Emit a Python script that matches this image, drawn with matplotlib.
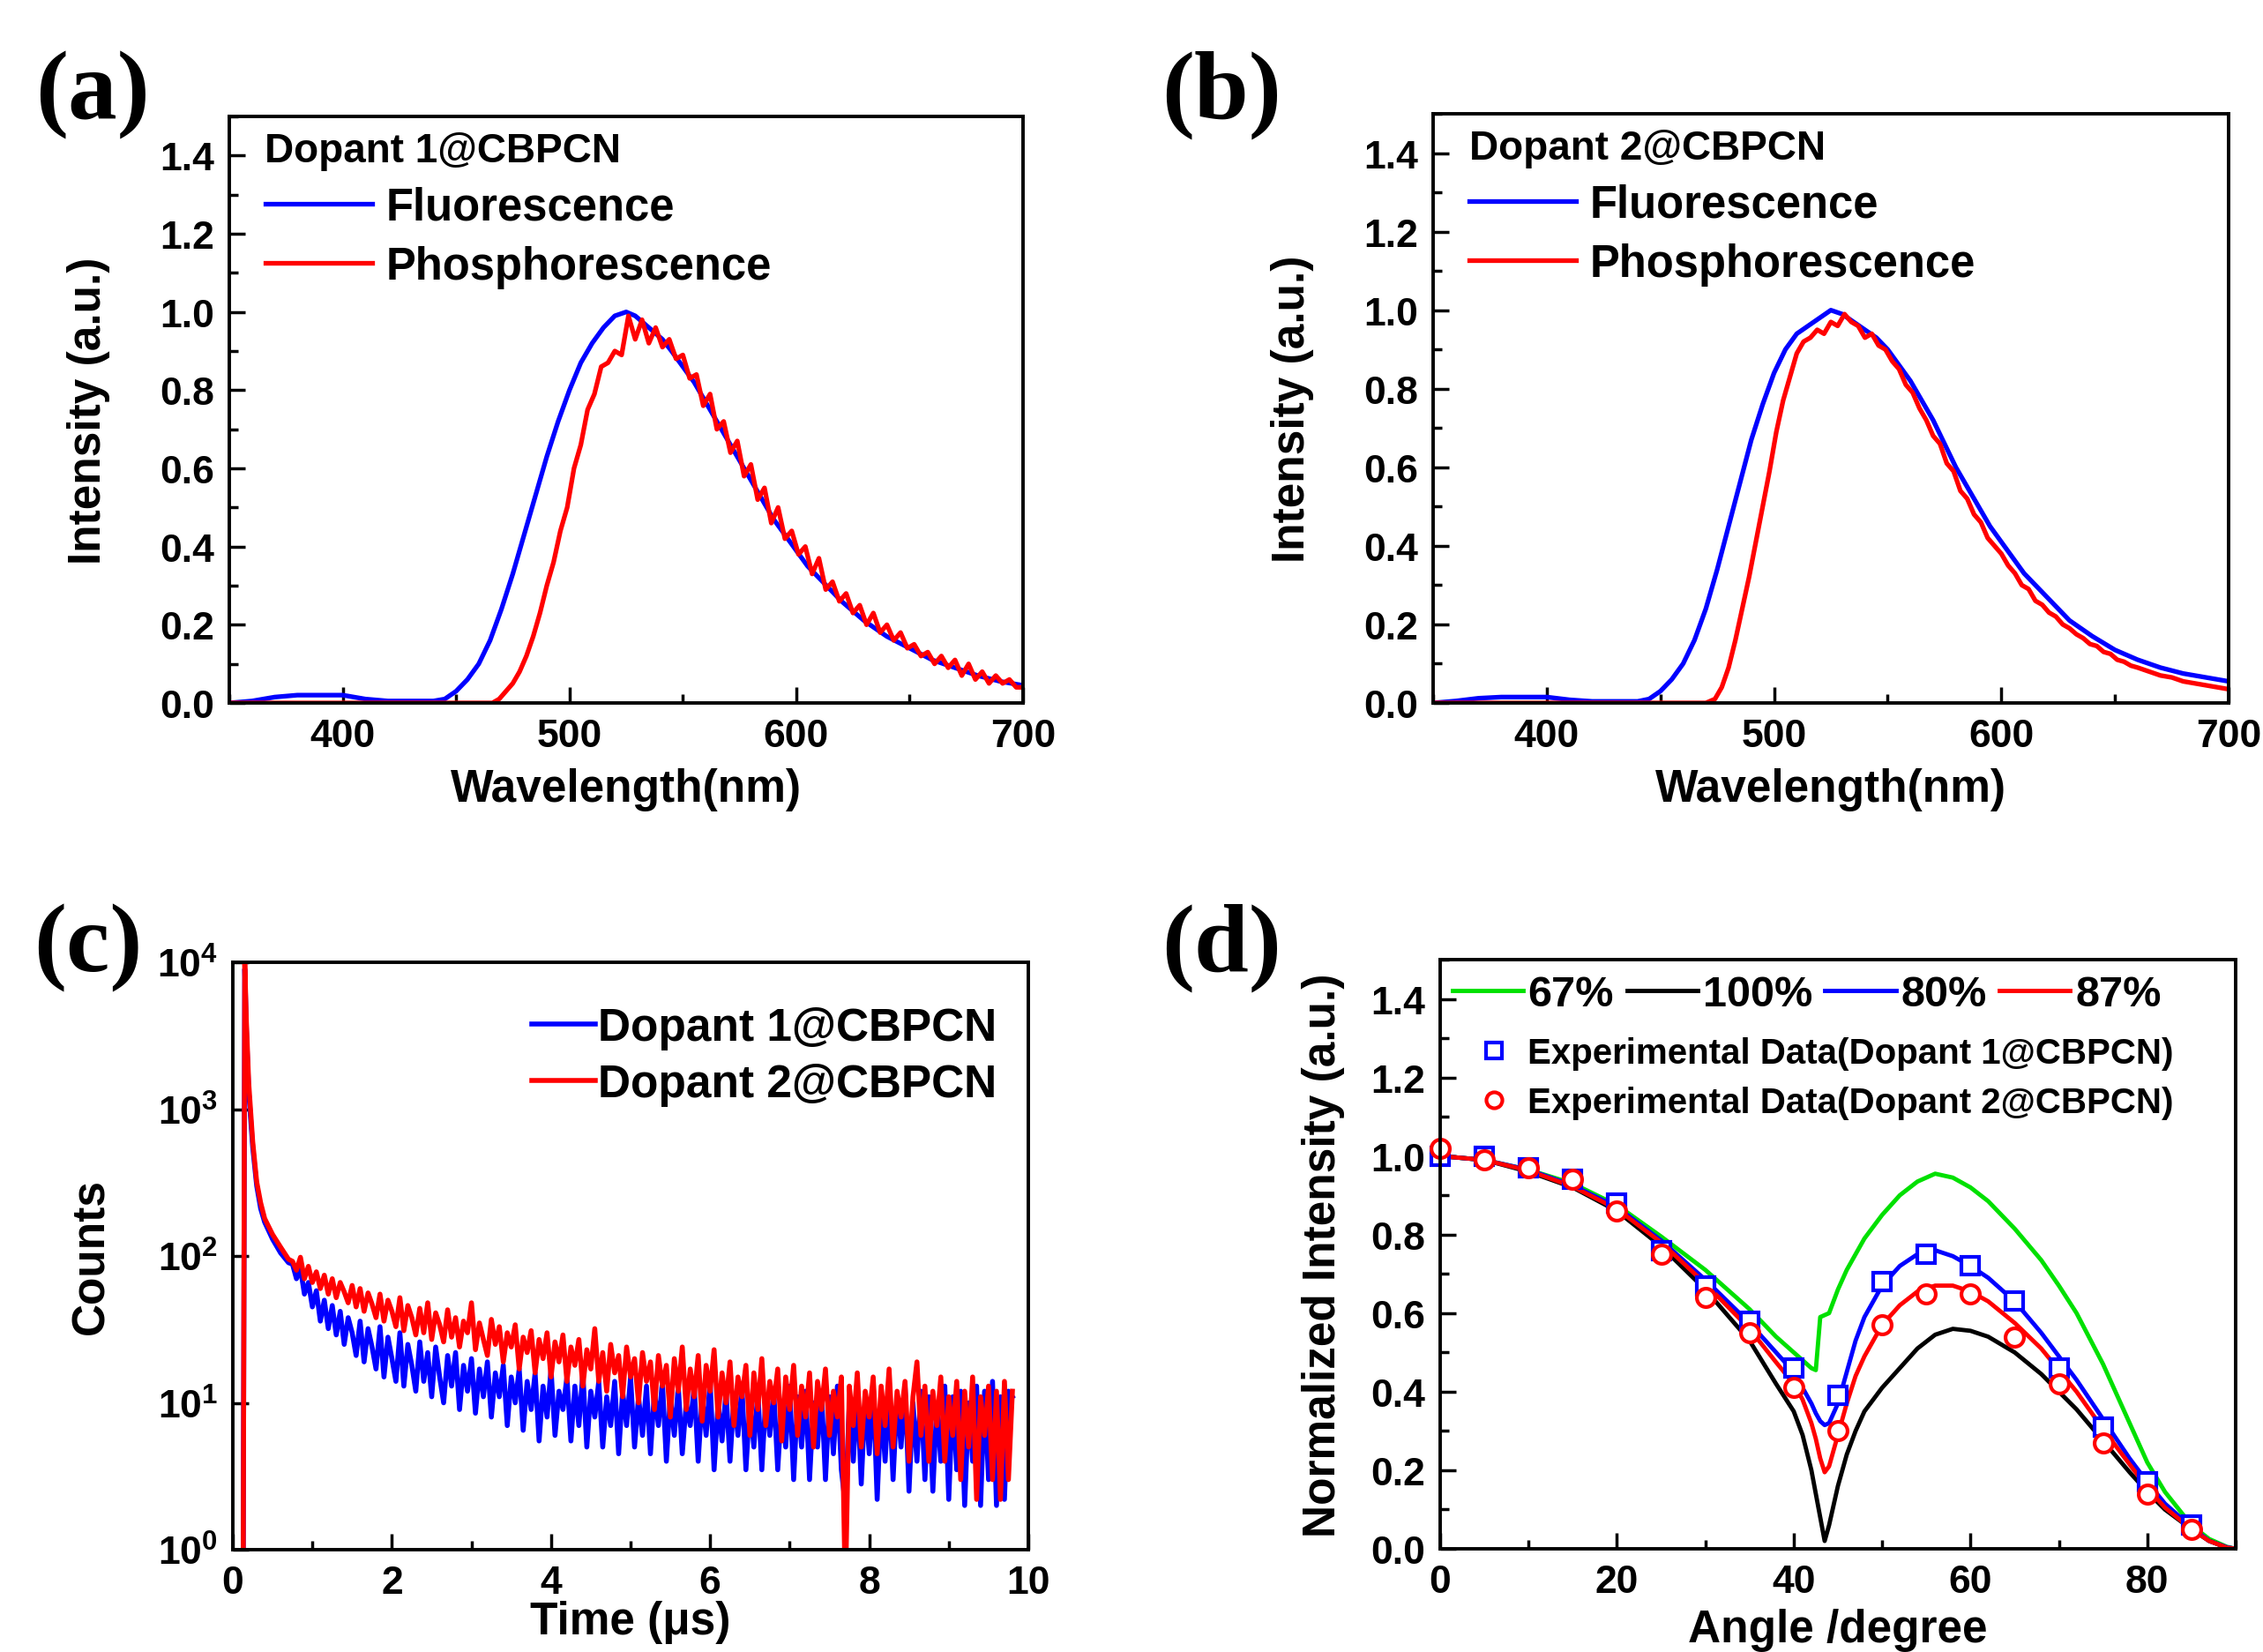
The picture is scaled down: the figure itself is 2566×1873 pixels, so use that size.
import matplotlib
matplotlib.use("Agg")
import matplotlib.pyplot as plt
from matplotlib.lines import Line2D
from matplotlib.ticker import MultipleLocator, NullLocator

plt.rcParams['font.family'] = ['Liberation Sans', 'DejaVu Sans']
plt.rcParams['font.weight'] = 'bold'
plt.rcParams['axes.labelweight'] = 'bold'
plt.rcParams['mathtext.fontset'] = 'custom'
plt.rcParams['mathtext.rm'] = 'Liberation Sans:bold'
plt.rcParams['mathtext.bf'] = 'Liberation Sans:bold'

# ---- (a) Dopant 1@CBPCN spectra ----
wl_fl_a = [350, 360, 370, 380, 390, 400, 410, 420, 440, 445, 450, 455, 460, 465, 470, 475, 480,
           485, 490, 495, 500, 505, 510, 515, 520, 525, 529, 533, 537, 541, 545, 550, 555, 560,
           565, 570, 575, 580, 585, 590, 595, 600, 605, 610, 615, 620, 630, 640, 650, 660, 670,
           680, 690, 700]
fl_a = [0.0, 0.005, 0.015, 0.02, 0.02, 0.02, 0.01, 0.005, 0.005, 0.01, 0.03, 0.06, 0.10, 0.16,
        0.24, 0.33, 0.43, 0.53, 0.63, 0.72, 0.80, 0.87, 0.92, 0.96, 0.99, 1.0, 0.99, 0.97, 0.95,
        0.93, 0.90, 0.86, 0.82, 0.77, 0.72, 0.67, 0.62, 0.57, 0.52, 0.47, 0.43, 0.39, 0.35, 0.32,
        0.29, 0.26, 0.21, 0.17, 0.14, 0.11, 0.09, 0.07, 0.055, 0.045]
wl_ph_a = [350, 400, 440, 466, 469, 472, 475, 478, 481, 484, 487, 490, 493, 496, 499, 502, 505,
           508, 511, 514, 517, 520, 523, 526, 529, 532, 535, 538, 541, 544, 547, 550, 553, 556,
           559, 562, 565, 568, 571, 574, 577, 580, 583, 586, 589, 592, 595, 598, 601, 604, 607,
           610, 613, 616, 619, 622, 625, 628, 631, 634, 637, 640, 643, 646, 649, 652, 655, 658,
           661, 664, 667, 670, 673, 676, 679, 682, 685, 688, 691, 694, 697, 700]
ph_a = [0.0, 0.0, 0.0, 0.0, 0.01, 0.03, 0.05, 0.08, 0.12, 0.17, 0.23, 0.30, 0.36, 0.44, 0.50,
        0.60, 0.66, 0.75, 0.79, 0.86, 0.87, 0.90, 0.89, 0.99, 0.93, 0.98, 0.92, 0.96, 0.91, 0.93,
        0.88, 0.89, 0.83, 0.84, 0.76, 0.79, 0.70, 0.72, 0.64, 0.67, 0.58, 0.61, 0.52, 0.55, 0.46,
        0.50, 0.42, 0.44, 0.38, 0.40, 0.33, 0.37, 0.29, 0.31, 0.26, 0.28, 0.23, 0.25, 0.20, 0.23,
        0.18, 0.20, 0.16, 0.18, 0.14, 0.15, 0.12, 0.13, 0.10, 0.12, 0.09, 0.11, 0.07, 0.10, 0.06,
        0.08, 0.05, 0.07, 0.05, 0.06, 0.04, 0.04]

# ---- (b) Dopant 2@CBPCN spectra ----
wl_fl_b = [350, 360, 370, 380, 390, 400, 410, 420, 440, 445, 450, 455, 460, 465, 470, 475, 480,
           485, 490, 495, 500, 505, 510, 515, 520, 525, 530, 535, 540, 545, 550, 555, 560, 565,
           570, 575, 580, 585, 590, 595, 600, 605, 610, 615, 620, 630, 640, 650, 660, 670, 680,
           690, 700]
fl_b = [0.0, 0.005, 0.012, 0.015, 0.015, 0.015, 0.008, 0.004, 0.004, 0.01, 0.03, 0.06, 0.10,
        0.16, 0.24, 0.34, 0.45, 0.56, 0.67, 0.76, 0.84, 0.90, 0.94, 0.96, 0.98, 1.0, 0.99, 0.97,
        0.95, 0.93, 0.90, 0.86, 0.82, 0.77, 0.72, 0.66, 0.60, 0.55, 0.50, 0.45, 0.41, 0.37, 0.33,
        0.30, 0.27, 0.21, 0.17, 0.135, 0.11, 0.09, 0.075, 0.065, 0.055]
wl_ph_b = [350, 440, 470, 474, 477, 480, 483, 486, 489, 492, 495, 498, 501, 504, 507, 510, 513,
           516, 519, 522, 525, 528, 531, 534, 537, 540, 543, 546, 549, 552, 555, 558, 561, 564,
           567, 570, 573, 576, 579, 582, 585, 588, 591, 594, 597, 600, 603, 606, 609, 612, 615,
           618, 621, 624, 627, 630, 633, 636, 639, 642, 645, 648, 651, 654, 657, 660, 665, 670,
           675, 680, 685, 690, 695, 700]
ph_b = [0.0, 0.0, 0.0, 0.01, 0.04, 0.09, 0.16, 0.24, 0.32, 0.41, 0.50, 0.59, 0.69, 0.77, 0.83,
        0.89, 0.92, 0.93, 0.95, 0.94, 0.97, 0.96, 0.99, 0.97, 0.96, 0.93, 0.94, 0.91, 0.90, 0.87,
        0.85, 0.81, 0.79, 0.75, 0.72, 0.68, 0.66, 0.61, 0.59, 0.54, 0.52, 0.48, 0.46, 0.42, 0.40,
        0.38, 0.35, 0.33, 0.30, 0.29, 0.26, 0.25, 0.23, 0.22, 0.20, 0.19, 0.175, 0.165, 0.15,
        0.145, 0.13, 0.125, 0.11, 0.105, 0.095, 0.09, 0.08, 0.07, 0.065, 0.055, 0.05, 0.045, 0.04,
        0.035]

# ---- (c) transient decay (counts vs time, us) ----
time_us = [0.10, 0.13, 0.15, 0.17, 0.20, 0.25, 0.30, 0.35, 0.40, 0.50, 0.60, 0.70,
           0.75, 0.80, 0.85, 0.90, 0.95, 1.00, 1.05, 1.10, 1.15, 1.20,
           1.25, 1.30, 1.35, 1.40, 1.45, 1.50, 1.55, 1.60, 1.65, 1.70,
           1.75, 1.80, 1.85, 1.90, 1.95, 2.00, 2.05, 2.10, 2.15, 2.20,
           2.25, 2.30, 2.35, 2.40, 2.45, 2.50, 2.55, 2.60, 2.65, 2.70,
           2.75, 2.80, 2.85, 2.90, 2.95, 3.00, 3.05, 3.10, 3.15, 3.20,
           3.25, 3.30, 3.35, 3.40, 3.45, 3.50, 3.55, 3.60, 3.65, 3.70,
           3.75, 3.80, 3.85, 3.90, 3.95, 4.00, 4.05, 4.10, 4.15, 4.20,
           4.25, 4.30, 4.35, 4.40, 4.45, 4.50, 4.55, 4.60, 4.65, 4.70,
           4.75, 4.80, 4.85, 4.90, 4.95, 5.00, 5.05, 5.10, 5.15, 5.20,
           5.25, 5.30, 5.35, 5.40, 5.45, 5.50, 5.55, 5.60, 5.65, 5.70,
           5.75, 5.80, 5.85, 5.90, 5.95, 6.00, 6.05, 6.10, 6.15, 6.20,
           6.25, 6.30, 6.35, 6.40, 6.45, 6.50, 6.55, 6.60, 6.65, 6.70,
           6.75, 6.80, 6.85, 6.90, 6.95, 7.00, 7.05, 7.10, 7.15, 7.20,
           7.25, 7.30, 7.35, 7.40, 7.45, 7.50, 7.55, 7.60, 7.65, 7.70,
           7.75, 7.80, 7.85, 7.90, 7.95, 8.00, 8.05, 8.10, 8.15, 8.20,
           8.25, 8.30, 8.35, 8.40, 8.45, 8.50, 8.55, 8.60, 8.65, 8.70,
           8.75, 8.80, 8.85, 8.90, 8.95, 9.00, 9.05, 9.10, 9.15, 9.20,
           9.25, 9.30, 9.35, 9.40, 9.45, 9.50, 9.55, 9.60, 9.65, 9.70,
           9.75, 9.80]
counts_d1 = [0.5, 0.5, 9000, 3500, 1300, 550, 300, 210, 170, 130, 105, 90,
             88, 70, 82, 55, 66, 45, 58, 36, 50, 32,
             46, 29, 42, 25, 38, 30, 21, 36, 19, 32,
             24, 17, 33, 15, 28, 20, 14, 30, 13, 25,
             18, 12, 26, 14, 22, 11, 24, 15, 10, 21,
             13, 22, 9, 18, 12, 20, 8.5, 17, 11, 19,
             8, 16, 11, 18, 7, 15, 10, 17, 6.5, 14,
             9, 16, 5.5, 13, 8, 17, 6, 12, 9, 15,
             5.5, 13, 7, 16, 5, 12, 8, 14, 5, 11,
             7, 14, 4.5, 12, 7, 15, 5, 11, 6, 13,
             4.5, 12, 7, 14, 4, 11, 6, 13, 4.5, 10,
             7, 13, 4, 11, 6, 14, 3.5, 10, 5.5, 12,
             4, 11, 6, 13, 3.5, 10, 5, 12, 3.5, 11,
             6, 12, 3.5, 10, 5, 13, 3, 11, 5, 12,
             3, 10, 5, 12, 3, 11, 4.5, 13, 3.5, 2,
             10, 4, 12, 2.8, 11, 4.5, 13, 2.2, 10, 4,
             12, 3, 11, 5, 13, 2.5, 10, 4, 12, 3,
             11, 2.5, 10, 4, 13, 2.2, 11, 3.5, 12, 2,
             10, 4, 13, 2, 12, 3, 14, 2, 11, 2.2,
             12, 11]
counts_d2 = [0.5, 0.5, 10000, 4000, 1500, 600, 320, 230, 180, 140, 115, 95,
             92, 80, 98, 70, 85, 66, 78, 60, 74, 55,
             70, 52, 66, 57, 48, 63, 45, 60, 42, 56,
             47, 38, 55, 36, 50, 42, 33, 52, 31, 46,
             38, 29, 44, 30, 48, 27, 41, 34, 26, 43,
             28, 38, 24, 36, 30, 48, 23, 35, 27, 21,
             37, 25, 33, 19, 30, 24, 34, 17, 28, 22,
             31, 16, 27, 20, 30, 15, 26, 19, 29, 14,
             24, 18, 27, 13, 23, 17, 32, 14, 22, 12,
             25, 16, 21, 11, 24, 15, 20, 10, 22, 14,
             19, 9, 21, 13, 18, 8, 20, 12, 24, 9,
             17, 11, 21, 7.5, 18, 12, 23, 8, 16, 10,
             19, 7, 15, 11, 18, 6, 16, 9, 20, 7,
             14, 10, 17, 5.5, 15, 9, 18, 6, 13, 8,
             16, 5, 14, 9, 17, 6, 12, 8, 15, 0.5,
             13, 7, 16, 5, 12, 8, 15, 4.5, 13, 7,
             17, 5, 12, 8, 14, 4, 11, 19, 6, 13,
             4, 12, 7, 15, 4, 11, 6, 14, 3, 12,
             5, 15, 2.2, 11, 6, 13, 3, 12, 2.2, 14,
             3, 12]
decay_exponents = [0, 1, 2, 3, 4]

# ---- (d) angular dependence ----
angle_fit = [0, 5, 10, 15, 20, 25, 30, 35, 38, 40, 41, 42, 42.5, 43, 43.5, 44, 45, 46, 47, 48,
             50, 52, 54, 56, 58, 60, 62, 65, 68, 70, 72, 75, 78, 80, 82, 85, 87, 89, 90]
fit_67 = [1.0, 0.99, 0.965, 0.93, 0.875, 0.795, 0.71, 0.61, 0.54, 0.50, 0.48, 0.46, 0.455, 0.59,
          0.595, 0.60, 0.66, 0.71, 0.75, 0.79, 0.85, 0.90, 0.935, 0.955, 0.945, 0.92, 0.885,
          0.815, 0.735, 0.67, 0.60, 0.47, 0.32, 0.22, 0.145, 0.06, 0.025, 0.005, 0.0]
fit_100 = [1.0, 0.99, 0.96, 0.92, 0.86, 0.77, 0.66, 0.53, 0.42, 0.35, 0.29, 0.20, 0.14, 0.08,
           0.02, 0.06, 0.16, 0.24, 0.30, 0.35, 0.41, 0.46, 0.51, 0.545, 0.56, 0.555, 0.54, 0.50,
           0.445, 0.40, 0.355, 0.275, 0.195, 0.145, 0.10, 0.05, 0.02, 0.003, 0.0]
fit_80 = [1.0, 0.99, 0.965, 0.925, 0.87, 0.785, 0.685, 0.575, 0.50, 0.45, 0.41, 0.37, 0.345,
          0.325, 0.315, 0.32, 0.37, 0.45, 0.53, 0.59, 0.67, 0.72, 0.75, 0.76, 0.745, 0.72, 0.69,
          0.63, 0.55, 0.49, 0.43, 0.33, 0.23, 0.17, 0.115, 0.055, 0.02, 0.004, 0.0]
fit_87 = [1.0, 0.99, 0.963, 0.922, 0.865, 0.78, 0.675, 0.56, 0.475, 0.42, 0.38, 0.32, 0.28,
          0.23, 0.195, 0.21, 0.29, 0.37, 0.44, 0.49, 0.57, 0.62, 0.655, 0.67, 0.67, 0.655, 0.63,
          0.575, 0.51, 0.455, 0.40, 0.305, 0.215, 0.155, 0.105, 0.05, 0.02, 0.003, 0.0]
angle_exp = [0, 5, 10, 15, 20, 25, 30, 35, 40, 45, 50, 55, 60, 65, 70, 75, 80, 85]
exp_d1 = [1.0, 1.0, 0.97, 0.94, 0.88, 0.76, 0.67, 0.58, 0.46, 0.39, 0.68, 0.75, 0.72, 0.63,
          0.46, 0.31, 0.17, 0.06]
exp_d2 = [1.02, 0.99, 0.97, 0.94, 0.86, 0.75, 0.64, 0.55, 0.41, 0.30, 0.57, 0.65, 0.65, 0.54,
          0.42, 0.27, 0.14, 0.05]

BLUE = '#0000ff'
RED = '#ff0000'
GREEN = '#00e000'
TICK = 32
LAB = 37


def style(ax):
    for s in ax.spines.values():
        s.set_linewidth(2.8)
    ax.tick_params(which='both', direction='in', top=False, right=False,
                   labelsize=TICK, width=2.5, pad=12)
    ax.tick_params(which='major', length=13)
    ax.tick_params(which='minor', length=7)


W, H = 2566, 1874
fig = plt.figure(figsize=(W / 100, H / 100), dpi=100)


def box(l, t, r, b):
    return [l / W, 1 - b / H, (r - l) / W, (b - t) / H]


ax_a = fig.add_axes(box(260, 133, 1160, 798))
ax_b = fig.add_axes(box(1625, 130, 2527, 798))
ax_c = fig.add_axes(box(264, 1092, 1166, 1758))
ax_d = fig.add_axes(box(1633, 1089, 2535, 1757))

# spectra panels
for ax, wf, f, wp, p, name in [(ax_a, wl_fl_a, fl_a, wl_ph_a, ph_a, 'Dopant 1@CBPCN'),
                               (ax_b, wl_fl_b, fl_b, wl_ph_b, ph_b, 'Dopant 2@CBPCN')]:
    ax.plot(wf, f, color=BLUE, lw=3.8, label='Fluorescence')
    ax.plot(wp, p, color=RED, lw=3.8, label='Phosphorescence')
    ax.set_xlim(350, 700)
    ax.set_ylim(0, 1.5)
    ax.set_xticks([400, 500, 600, 700])
    ax.xaxis.set_minor_locator(MultipleLocator(50))
    ax.set_yticks([0.0, 0.2, 0.4, 0.6, 0.8, 1.0, 1.2, 1.4])
    ax.yaxis.set_minor_locator(MultipleLocator(0.1))
    style(ax)
    ax.set_xlabel('Wavelength(nm)', fontsize=LAB)
    ax.set_ylabel('Intensity (a.u.)', fontsize=LAB)
    ax.xaxis.set_label_coords(0.5, -0.11)
    ax.yaxis.set_label_coords(-0.15, 0.5)
    ax.legend(loc='upper left', bbox_to_anchor=(0.045, 0.975), frameon=False,
              fontsize=36.5, title=name, alignment='left',
              title_fontproperties={'weight': 'bold', 'size': 33},
              handlelength=2.4, handletextpad=0.3, labelspacing=0.36,
              borderpad=0, borderaxespad=0)

# decay panel
ax_c.plot(time_us, counts_d1, color=BLUE, lw=4, label='Dopant 1@CBPCN')
ax_c.plot(time_us, counts_d2, color=RED, lw=4, label='Dopant 2@CBPCN')
ax_c.set_yscale('log')
ax_c.set_xlim(0, 10)
ax_c.set_ylim(1, 1e4)
ax_c.set_xticks([0, 2, 4, 6, 8, 10])
ax_c.xaxis.set_minor_locator(MultipleLocator(1))
ax_c.set_yticks([10 ** e for e in decay_exponents])
ax_c.set_yticklabels([r'$\mathbf{10^{%d}}$' % e for e in decay_exponents])
ax_c.yaxis.set_minor_locator(NullLocator())
style(ax_c)
ax_c.set_xlabel('Time (μs)', fontsize=LAB)
ax_c.set_ylabel('Counts', fontsize=LAB)
ax_c.xaxis.set_label_coords(0.5, -0.085)
ax_c.yaxis.set_label_coords(-0.15, 0.5)
ax_c.legend(loc='upper right', bbox_to_anchor=(0.96, 0.925), frameon=False, fontsize=37,
            handlelength=1.4, handletextpad=0.05, labelspacing=0.3,
            borderpad=0, borderaxespad=0)

# angular panel
ax_d.plot(angle_fit, fit_67, color=GREEN, lw=3.5)
ax_d.plot(angle_fit, fit_100, color='black', lw=3.5)
ax_d.plot(angle_fit, fit_80, color=BLUE, lw=3.5)
ax_d.plot(angle_fit, fit_87, color=RED, lw=3.5)
ax_d.plot(angle_exp, exp_d1, ls='none', marker='s', ms=15, mfc='white', mec=BLUE, mew=3,
          clip_on=False)
ax_d.plot(angle_exp, exp_d2, ls='none', marker='o', ms=15, mfc='white', mec=RED, mew=3,
          clip_on=False)
ax_d.set_xlim(0, 90)
ax_d.set_ylim(0, 1.5)
ax_d.set_xticks([0, 20, 40, 60, 80])
ax_d.xaxis.set_minor_locator(MultipleLocator(10))
ax_d.set_yticks([0.0, 0.2, 0.4, 0.6, 0.8, 1.0, 1.2, 1.4])
ax_d.yaxis.set_minor_locator(MultipleLocator(0.1))
style(ax_d)
ax_d.set_xlabel('Angle /degree', fontsize=LAB)
ax_d.set_ylabel('Normalized Intensity (a.u.)', fontsize=LAB)
ax_d.xaxis.set_label_coords(0.5, -0.1)
ax_d.yaxis.set_label_coords(-0.12, 0.5)

fit_handles = [Line2D([], [], color=GREEN, lw=3.5), Line2D([], [], color='black', lw=3.5),
               Line2D([], [], color=BLUE, lw=3.5), Line2D([], [], color=RED, lw=3.5)]
leg1 = ax_d.legend(fit_handles, ['67%', '100%', '80%', '87%'], loc='upper left',
                   bbox_to_anchor=(0.015, 0.975), ncol=4, frameon=False, fontsize=35,
                   handlelength=1.65, handletextpad=0.12, columnspacing=0.3,
                   borderpad=0, borderaxespad=0)
ax_d.add_artist(leg1)
exp_handles = [Line2D([], [], ls='none', marker='s', ms=13, mfc='white', mec=BLUE, mew=3),
               Line2D([], [], ls='none', marker='o', ms=13, mfc='white', mec=RED, mew=3)]
ax_d.legend(exp_handles, ['Experimental Data(Dopant 1@CBPCN)',
                          'Experimental Data(Dopant 2@CBPCN)'],
            loc='upper left', bbox_to_anchor=(0.05, 0.87), frameon=False, fontsize=29,
            handlelength=0.8, handletextpad=0.55, labelspacing=0.45,
            borderpad=0, borderaxespad=0)

# panel letters
for lab, x, y in [('(a)', 105, 108), ('(b)', 1385, 108), ('(c)', 100, 1075), ('(d)', 1385, 1075)]:
    fig.text(x / W, 1 - y / H, lab, family='Liberation Serif', weight='bold', fontsize=80,
             ha='center', va='center')

fig.savefig('out.png', dpi=100)
